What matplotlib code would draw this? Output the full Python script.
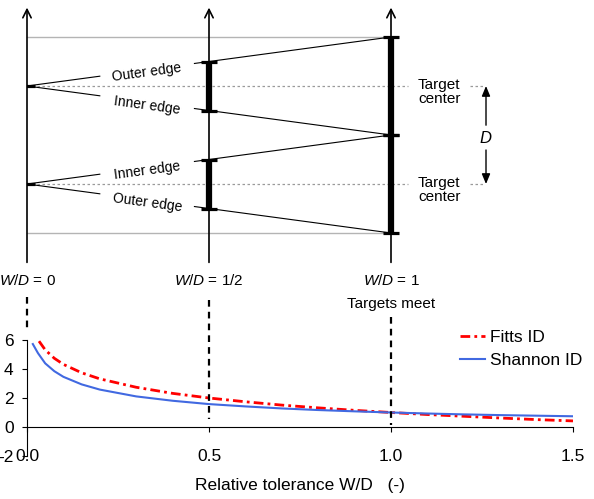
import numpy as np
import matplotlib.pyplot as plt

plt.rcParams['font.family'] = ['Liberation Sans', 'DejaVu Sans']
plt.rcParams['mathtext.fontset'] = 'custom'
plt.rcParams['mathtext.it'] = 'Liberation Sans:italic'
plt.rcParams['mathtext.rm'] = 'Liberation Sans'
plt.rcParams['axes.unicode_minus'] = False

# index of difficulty
shannon_x = [0.016, 0.03, 0.05, 0.075, 0.1, 0.15, 0.2, 0.3, 0.4, 0.5,
             0.6, 0.7, 0.8, 0.9, 1.0, 1.1, 1.2, 1.3, 1.4, 1.5]
shannon_id = [5.72, 5.1, 4.39, 3.85, 3.46, 2.94, 2.58, 2.11, 1.81, 1.58,
              1.42, 1.28, 1.17, 1.08, 1.0, 0.93, 0.87, 0.82, 0.78, 0.74]
fitts_x = [0.033, 0.05, 0.075, 0.1, 0.15, 0.2, 0.3, 0.4, 0.5,
           0.6, 0.7, 0.8, 0.9, 1.0, 1.1, 1.2, 1.3, 1.4, 1.5]
fitts_id = [5.92, 5.32, 4.74, 4.32, 3.74, 3.32, 2.74, 2.32, 2.0,
            1.74, 1.51, 1.32, 1.15, 1.0, 0.86, 0.74, 0.62, 0.51, 0.42]
xticks = [0.0, 0.5, 1.0, 1.5]
xtick_labels = ['0.0', '0.5', '1.0', '1.5']
yticks = [-2, 0, 2, 4, 6]
ytick_labels = ['-2', '0', '2', '4', '6']

# schematic: three tolerance states, target centres in units of D
wd_states = [0, 0.5, 1]
wd_labels = [r'$W/D$ = 0', r'$W/D$ = 1/2', r'$W/D$ = 1']
centers = [0.5, -0.5]

fig = plt.figure(figsize=(5.94, 4.99), dpi=100)

# lower chart
ax = fig.add_axes([27 / 594, 1 - 456 / 499, 546 / 594, 116 / 499])
ax.patch.set_alpha(0)
ax.plot(fitts_x, fitts_id, color='#ff0000', lw=2, ls=(0, (3.5, 1.5, 1, 1.5)), label='Fitts ID')
ax.plot(shannon_x, shannon_id, color='#4169e1', lw=1.5, label='Shannon ID')
ax.set_xlim(0, 1.5)
ax.set_ylim(-2, 6)
ax.spines['right'].set_visible(False)
ax.spines['top'].set_visible(False)
ax.spines['bottom'].set_position(('data', 0))
for s in ['left', 'bottom']:
    ax.spines[s].set_linewidth(0.8)
ax.set_xticks(xticks, xtick_labels)
ax.set_yticks(yticks, ytick_labels)
ax.tick_params(axis='x', length=3.6, width=0.8, pad=12, labelsize=12.5)
ax.tick_params(axis='y', length=3.6, width=0.8, pad=6, labelsize=12.5)
ax.set_xlabel('Relative tolerance W/D   (-)', fontsize=12.5, labelpad=10)
ax.legend(loc='upper left', bbox_to_anchor=(460 / 594, 1 - 330 / 499),
          bbox_transform=fig.transFigure, frameon=False, fontsize=12.5,
          handlelength=1.45, handletextpad=0.3, labelspacing=0.45,
          borderpad=0, borderaxespad=0)

# schematic on top, x in W/D, y in units of D
ax_d = fig.add_axes([27 / 594, 0, 546 / 594, 1])
ax_d.set_xlim(0, 1.5)
ax_d.set_ylim(-(499 - 135) / 98, 135 / 98)
ax_d.axis('off')
ax_d.patch.set_alpha(0)

# grey bounds and dotted centre lines
for b in [1.0, -1.0]:
    ax_d.plot([0, 1], [b, b], color='#b4b4b4', lw=1, clip_on=False)
for c in centers:
    ax_d.plot([0, 1.047], [c, c], color='#9a9a9a', lw=0.9, ls=(0, (2, 2)), clip_on=False)
    ax_d.plot([1.217, 1.253], [c, c], color='#9a9a9a', lw=0.9, ls=(0, (2, 2)), clip_on=False)
    ax_d.text(1.074, c - 0.06, 'Target\ncenter', ha='left', va='center', fontsize=11, linespacing=1.05)

# target edges
ang = np.degrees(np.arctan(0.5 * 98 / 364))
for c in centers:
    for sgn in [1, -1]:
        y = lambda x: c + sgn * 0.5 * x
        ax_d.plot([0, 0.2], [y(0), y(0.2)], color='k', lw=0.8)
        ax_d.plot([0.46, 1], [y(0.46), y(1)], color='k', lw=0.8)
        name = 'Outer edge' if sgn == np.sign(c) else 'Inner edge'
        ax_d.text(0.33, y(0.33) - 0.03, name, ha='center', va='center', fontsize=10,
                  rotation=sgn * ang, rotation_mode='anchor')

# axes with arrows, target bars and caps
for w, lab in zip(wd_states, wd_labels):
    ax_d.annotate('', xy=(w, 1.3), xytext=(w, -1.3),
                  arrowprops=dict(arrowstyle='->,head_length=0.6,head_width=0.3',
                                  lw=1.2, color='k', shrinkA=0, shrinkB=0))
    for c in centers:
        lo, hi = c - w / 2, c + w / 2
        if w > 0:
            ax_d.plot([w, w], [lo, hi], color='k', lw=4.5, solid_capstyle='butt')
        for e in {lo, hi}:
            ax_d.plot([w - 0.023, w + 0.023], [e, e], color='k', lw=2.3, solid_capstyle='butt')
    ax_d.text(w, -1.48, lab, ha='center', va='center', fontsize=11, clip_on=False)
ax_d.text(1.0, -1.72, 'Targets meet', ha='center', va='center', fontsize=11)

# D arrow
for tip, tail in [(0.5, 0.10), (-0.5, -0.153)]:
    ax_d.annotate('', xy=(1.261, tip), xytext=(1.261, tail),
                  arrowprops=dict(arrowstyle='-|>,head_length=0.6,head_width=0.25',
                                  lw=1, color='k', shrinkA=0, shrinkB=0))
ax_d.text(1.261, -0.03, '$D$', ha='center', va='center', fontsize=12)

# dashed drop lines into the chart
dash_top = [-1.65, -1.68, -1.86]
dash_bot = [-1.99, -2.9, -2.96]
for w, t, b in zip(wd_states, dash_top, dash_bot):
    ax_d.plot([w, w], [t, b], color='k', lw=1.6, ls=(0, (3, 2.3)), clip_on=False)

fig.savefig('out.png', dpi=100)
